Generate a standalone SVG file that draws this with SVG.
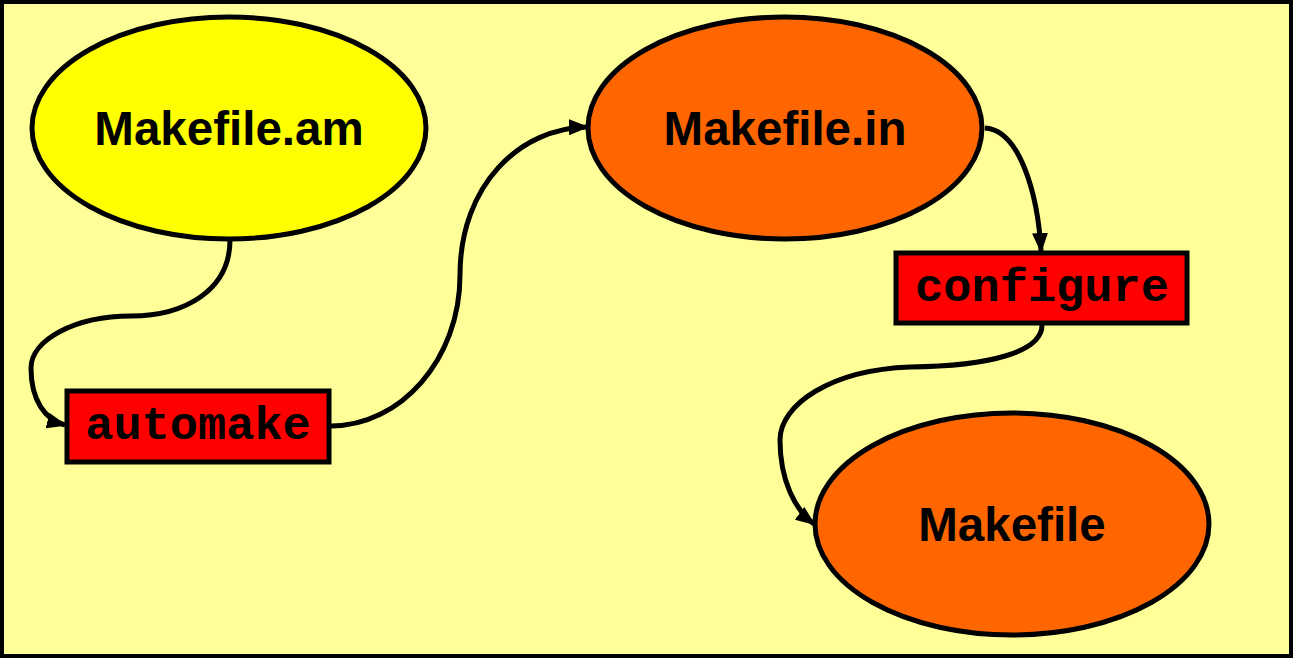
<svg xmlns="http://www.w3.org/2000/svg" width="1293" height="661" viewBox="0 0 1293 661">
<style>
.ell{stroke:#000;stroke-width:5}
.box{fill:#ff0000;stroke:#000;stroke-width:5}
.lbl{font-family:"Liberation Sans",Arial,sans-serif;font-weight:bold;font-size:47.5px;fill:#000;text-anchor:middle}
.cmd{font-family:"Liberation Mono","Courier New",monospace;font-weight:bold;font-size:47px;fill:#000;text-anchor:middle}
.conn{fill:none;stroke:#000;stroke-width:5;marker-end:url(#arr)}
</style>
<defs>
<marker id="arr" markerUnits="userSpaceOnUse" viewBox="0 0 20 16" refX="18" refY="8" markerWidth="20" markerHeight="16" orient="auto">
<path d="M0,0 L20,8 L0,16 Z" fill="#000"/>
</marker>
</defs>
<rect x="2" y="2" width="1289" height="654" fill="#ffff99" stroke="#000" stroke-width="4"/>
<g id="connectors">
<path class="conn" d="M230,240 C230,290 185,316 131,316 C75,316 31,340 31,368 C31,400 45,420 65,425"/>
<path class="conn" d="M331,426 C400,426 460,360 460,275 C460,185 520,128 587,127"/>
<path class="conn" d="M985,128 C1020,130 1038,195 1041,251"/>
<path class="conn" d="M1042,325 C1042,352 990,366 910,367 C830,370 780,405 780,440 C780,480 795,510 814,524"/>
</g>
<g id="makefile-am">
<ellipse class="ell" cx="229" cy="128" rx="197" ry="111" fill="#ffff00"/>
<text class="lbl" x="229" y="145">Makefile.am</text>
</g>
<g id="makefile-in">
<ellipse class="ell" cx="785" cy="128" rx="197" ry="111" fill="#ff6600"/>
<text class="lbl" x="785" y="145">Makefile.in</text>
</g>
<g id="makefile">
<ellipse class="ell" cx="1012" cy="524" rx="197" ry="111" fill="#ff6600"/>
<text class="lbl" x="1012" y="541">Makefile</text>
</g>
<g id="automake">
<rect class="box" x="67" y="391" width="262" height="71"/>
<text class="cmd" x="198" y="439">automake</text>
</g>
<g id="configure">
<rect class="box" x="896" y="253" width="291" height="70"/>
<text class="cmd" x="1042" y="301">configure</text>
</g>
</svg>
